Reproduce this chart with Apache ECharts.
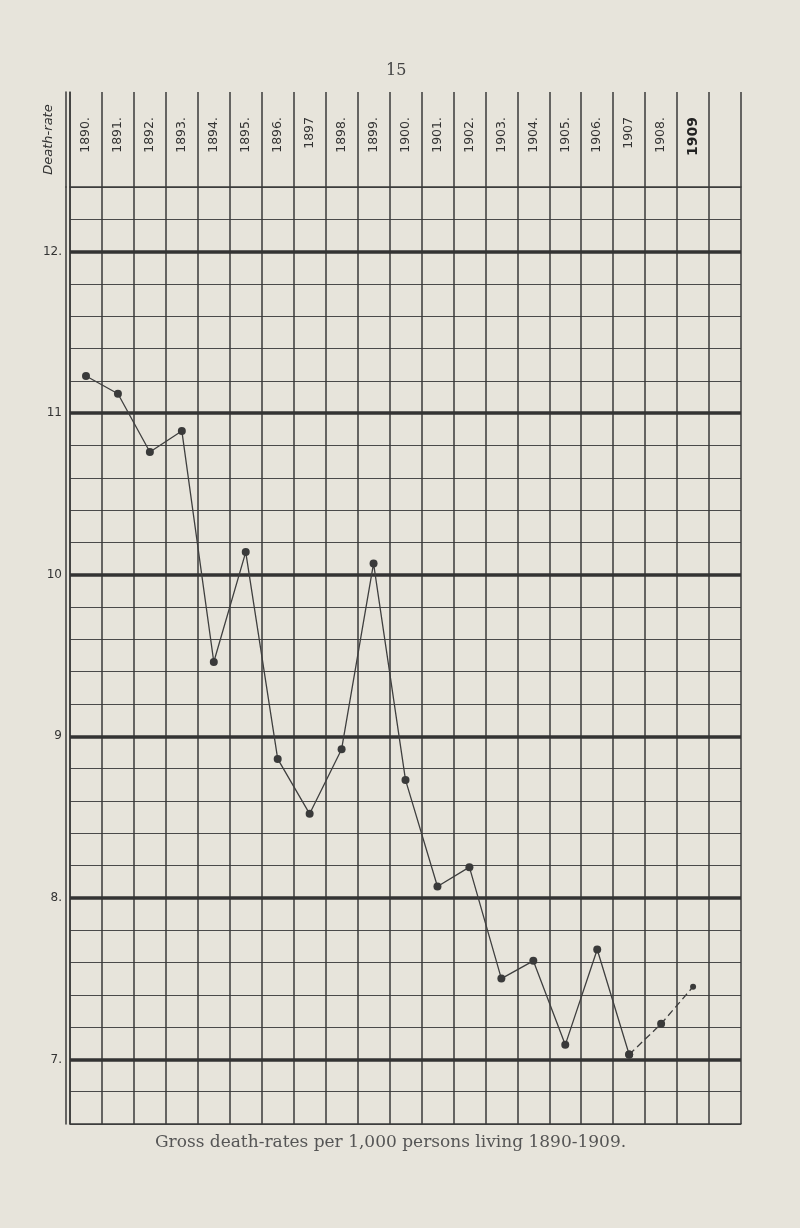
<!DOCTYPE html>
<html><head><meta charset="utf-8">
<script src="https://cdn.jsdelivr.net/npm/echarts@6/dist/echarts.min.js"></script>
<style>html,body{margin:0;padding:0;background:#e7e4db}#c{width:800px;height:1228px}</style>
</head><body><div id="c"></div>
<script>
const years = ['1890','1891','1892','1893','1894','1895','1896','1897','1898','1899','1900','1901','1902','1903','1904','1905','1906','1907','1908','1909'];
const yearLabels = ['1890.','1891.','1892.','1893.','1894.','1895.','1896.','1897','1898.','1899.','1900.','1901.','1902.','1903.','1904.','1905.','1906.','1907','1908.','1909'];
const deathRates = [11.23,11.12,10.76,10.89,9.46,10.14,8.86,8.52,8.92,10.07,8.73,8.07,8.19,7.50,7.61,7.09,7.68,7.03,7.22,7.45];
const majorTicks = [7,8,9,10,11,12];
const majorTickLabels = ['7.','8.','9','10','11','12.'];
const columns = years.concat(['']);
const dashFrom = 17;

const ink = '#3a3a3a';
const chart = echarts.init(document.getElementById('c'));
chart.setOption({
  animation: false,
  backgroundColor: '#e7e4db',
  title: [
    {text: '15', left: 381, top: 58, textStyle: {fontFamily: 'DejaVu Serif', fontSize: 16, fontWeight: 'normal', color: '#444'}},
    {text: 'Gross death-rates per 1,000 persons living 1890-1909.', left: 150, top: 1129, textStyle: {fontFamily: 'DejaVu Serif', fontSize: 17, fontWeight: 'normal', color: '#555'}}
  ],
  grid: [
    {left: 70, right: 59, top: 187, bottom: 104},
    {left: 70, right: 59, top: 92, height: 95}
  ],
  xAxis: [
    {gridIndex: 0, type: 'category', data: columns, boundaryGap: true, position: 'bottom',
     axisLine: {show: true, lineStyle: {color: ink, width: 1.5}}, axisTick: {show: false}, axisLabel: {show: false},
     splitLine: {show: true, interval: 0, lineStyle: {color: ink, width: 1.5}}},
    {gridIndex: 1, type: 'category', data: columns, boundaryGap: true, position: 'top',
     axisLine: {show: true, lineStyle: {color: ink, width: 1.5}}, axisTick: {show: false},
     splitLine: {show: true, interval: 0, lineStyle: {color: ink, width: 1.5}},
     axisLabel: {show: true, inside: true, rotate: 90, margin: 25, interval: 0, color: '#333', fontSize: 12.5, fontFamily: 'DejaVu Sans',
       formatter: (v, i) => i < yearLabels.length ? (i === yearLabels.length - 1 ? '{b|' + yearLabels[i] + '}' : yearLabels[i]) : '',
       rich: {b: {fontSize: 14, fontWeight: 'bold', color: '#222', fontFamily: 'DejaVu Sans'}}}}
  ],
  yAxis: [
    {gridIndex: 0, type: 'value', min: 6.6, max: 12.4, interval: 0.2, position: 'left',
     axisLine: {show: true, lineStyle: {color: ink, width: 1.5}}, axisTick: {show: false},
     axisLabel: {show: true, margin: 8, color: '#333', fontSize: 12, fontFamily: 'DejaVu Sans',
       formatter: v => { const r = Math.round(v); if (Math.abs(v - r) < 1e-6) { const k = majorTicks.indexOf(r); return k >= 0 ? majorTickLabels[k] : ''; } return ''; }},
     splitLine: {show: true, lineStyle: {color: '#4a4a4a', width: 1.1}}},
    {gridIndex: 0, type: 'value', min: 6.6, max: 12.4, position: 'left', offset: 4,
     axisLine: {show: true, lineStyle: {color: ink, width: 1.5}}, axisTick: {show: false}, axisLabel: {show: false}, splitLine: {show: false}},
    {gridIndex: 1, type: 'value', min: 0, max: 1, position: 'left',
     axisLine: {show: true, lineStyle: {color: ink, width: 1.5}}, axisTick: {show: false}, axisLabel: {show: false}, splitLine: {show: false},
     name: 'Death-rate', nameLocation: 'middle', nameRotate: 90, nameGap: 15,
     nameTextStyle: {fontSize: 13, color: '#333', fontFamily: 'DejaVu Sans', fontStyle: 'italic'}},
    {gridIndex: 1, type: 'value', min: 0, max: 1, position: 'left', offset: 4,
     axisLine: {show: true, lineStyle: {color: ink, width: 1.5}}, axisTick: {show: false}, axisLabel: {show: false}, splitLine: {show: false}}
  ],
  series: [
    {type: 'line', xAxisIndex: 0, yAxisIndex: 0, data: [], z: 1, silent: true,
     markLine: {silent: true, symbol: ['none', 'none'], label: {show: false}, animation: false,
       lineStyle: {color: '#333', width: 3.5, type: 'solid'},
       data: majorTicks.map(v => ({yAxis: v}))}},
    {type: 'line', xAxisIndex: 0, yAxisIndex: 0, z: 5,
     data: deathRates.map((v, i) => i <= dashFrom ? v : null),
     symbol: 'circle', symbolSize: 8, showAllSymbol: true,
     itemStyle: {color: '#3a3a3a'}, lineStyle: {color: '#3f3f3f', width: 1.3}},
    {type: 'line', xAxisIndex: 0, yAxisIndex: 0, z: 5,
     data: deathRates.map((v, i) => i >= dashFrom ? v : null),
     symbol: 'circle', symbolSize: (v, p) => p.dataIndex === deathRates.length - 1 ? 6 : 8, showAllSymbol: true,
     itemStyle: {color: '#3a3a3a'}, lineStyle: {color: '#3f3f3f', width: 1.3, type: [7, 4]}}
  ]
});
</script></body></html>
